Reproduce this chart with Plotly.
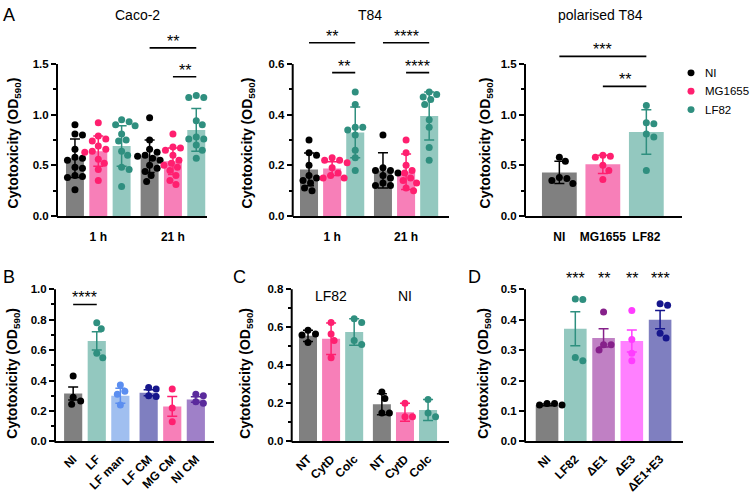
import plotly.graph_objects as go

W, H = 750, 494

# ---------------- colours ----------------
GRAY_BAR, BLACK = "#808080", "#000000"
PINK_BAR, PINK_DOT = "#f77fb8", "#ff1f6f"
TEAL_BAR, TEAL_DOT = "#93c8bf", "#2f8f7f"
BLUE_BAR, BLUE_DOT = "#a0bff0", "#5b8ef0"
SLATE_BAR, NAVY_DOT = "#7f7fc0", "#16168c"
LAV_BAR, PURP_DOT = "#9f80c8", "#5a2a9c"
ORCH_BAR, PLUM_DOT = "#c080c4", "#86208a"
MAG_BAR, MAG_DOT = "#ff80ff", "#ff3cff"

# ---------------- Panel A: Caco-2 ----------------
caco_groups = ["1 h", "21 h"]
caco_means = [0.57, 0.64, 0.69, 0.59, 0.54, 0.85]
caco_sd = [0.19, 0.15, 0.20, 0.16, 0.13, 0.21]
caco_ni_1h = [0.90, 0.81, 0.80, 0.66, 0.58, 0.57, 0.55, 0.48, 0.47, 0.40, 0.39, 0.38, 0.26]
caco_mg_1h = [0.92, 0.79, 0.76, 0.74, 0.69, 0.66, 0.64, 0.63, 0.56, 0.52, 0.46, 0.35]
caco_lf_1h = [0.95, 0.93, 0.90, 0.89, 0.81, 0.75, 0.74, 0.64, 0.60, 0.48, 0.46, 0.29]
caco_ni_21h = [0.97, 0.75, 0.66, 0.63, 0.60, 0.59, 0.57, 0.55, 0.50, 0.47, 0.44, 0.40, 0.34]
caco_mg_21h = [0.81, 0.68, 0.67, 0.65, 0.60, 0.55, 0.52, 0.50, 0.48, 0.45, 0.40, 0.35, 0.31]
caco_lf_21h = [1.19, 1.17, 1.17, 0.94, 0.90, 0.78, 0.76, 0.76, 0.73, 0.70, 0.65, 0.57]

# ---------------- Panel A: T84 ----------------
t84_groups = ["1 h", "21 h"]
t84_means = [0.184, 0.187, 0.33, 0.18, 0.175, 0.395]
t84_sd = [0.065, 0.027, 0.10, 0.07, 0.07, 0.095]
t84_ni_1h = [0.30, 0.25, 0.24, 0.20, 0.16, 0.15, 0.14, 0.13, 0.11, 0.10]
t84_mg_1h = [0.23, 0.22, 0.22, 0.21, 0.19, 0.17, 0.16, 0.15, 0.15]
t84_lf_1h = [0.49, 0.44, 0.35, 0.35, 0.34, 0.32, 0.26, 0.23, 0.18]
t84_ni_21h = [0.32, 0.19, 0.18, 0.18, 0.17, 0.16, 0.15, 0.13, 0.12, 0.12]
t84_mg_21h = [0.30, 0.25, 0.20, 0.18, 0.17, 0.15, 0.14, 0.13, 0.11, 0.10]
t84_lf_21h = [0.49, 0.48, 0.47, 0.46, 0.44, 0.38, 0.35, 0.27, 0.22]

# ---------------- Panel A: polarised T84 ----------------
pol_labels = ["NI", "MG1655", "LF82"]
pol_means = [0.43, 0.51, 0.83]
pol_sd = [0.11, 0.09, 0.22]
pol_ni = [0.58, 0.54, 0.38, 0.37, 0.35, 0.32]
pol_mg = [0.60, 0.59, 0.58, 0.50, 0.45, 0.36]
pol_lf = [1.09, 0.92, 0.91, 0.81, 0.78, 0.45]

# ---------------- Panel B ----------------
b_labels = ["NI", "LF", "LF man", "LF CM", "MG CM", "NI CM"]
b_means = [0.315, 0.66, 0.30, 0.32, 0.23, 0.275]
b_sem = [0.043, 0.06, 0.05, 0.02, 0.065, 0.018]
b_ni = [0.43, 0.29, 0.265, 0.245]
b_lf = [0.78, 0.74, 0.58, 0.55]
b_lfman = [0.37, 0.33, 0.31, 0.24]
b_lfcm = [0.355, 0.345, 0.30, 0.295]
b_mgcm = [0.345, 0.22, 0.13]
b_nicm = [0.31, 0.30, 0.26, 0.25]

# ---------------- Panel C ----------------
c_labels = ["NT", "CytD", "Colc", "NT", "CytD", "Colc"]
c_groups = ["LF82", "NI"]
c_means = [0.555, 0.54, 0.575, 0.195, 0.153, 0.165]
c_err = [0.03, 0.083, 0.07, 0.055, 0.047, 0.055]
c_nt_lf = [0.585, 0.565, 0.56, 0.52]
c_cytd_lf = [0.625, 0.565, 0.53, 0.44]
c_colc_lf = [0.645, 0.625, 0.53, 0.51]
c_nt_ni = [0.26, 0.225, 0.15, 0.15]
c_cytd_ni = [0.20, 0.13, 0.13]
c_colc_ni = [0.22, 0.15, 0.13]

# ---------------- Panel D ----------------
d_labels = ["NI", "LF82", "ΔE1", "ΔE3", "ΔE1+E3"]
d_means = [0.12, 0.37, 0.34, 0.33, 0.40]
d_sem = [0.003, 0.056, 0.03, 0.036, 0.03]
d_stars = ["", "***", "**", "**", "***"]
d_ni = [0.12, 0.125, 0.12, 0.125]
d_lf = [0.466, 0.468, 0.276, 0.265]
d_e1 = [0.425, 0.318, 0.318, 0.30]
d_e3 = [0.43, 0.335, 0.29, 0.265]
d_e13 = [0.447, 0.452, 0.355, 0.34]

FONT = "Liberation Sans, Arial, sans-serif"
fig = go.Figure()
shapes, annotations, layout_axes = [], [], {}


def swarm(vals, ppx, ppy, d=7.2, step=1.5):
    placed, offs = [], [0.0] * len(vals)
    order = sorted(range(len(vals)), key=lambda i: -vals[i])
    cands = [0.0]
    for k in range(1, 30):
        cands += [k * step, -k * step]
    for i in order:
        yv = vals[i] * ppy
        for c in cands:
            if all((c - px) ** 2 + (yv - py) ** 2 >= d * d for px, py in placed):
                break
        placed.append((c, yv))
        offs[i] = c / ppx
    return offs


def panel(idx, px0, px1, py0, pytop, topval, ext, xrange, major, minor,
          bars, tickpos, ticktext, tickangle=0, tickfs=12, fmt=".1f"):
    """bars: list of (xpos, mean, err, points, bar colour, dot colour, width)"""
    xa = "x" if idx == 1 else f"x{idx}"
    ya = "y" if idx == 1 else f"y{idx}"
    ytop_ext = py0 - (py0 - pytop) * ext / topval
    xdom = [px0 / W, px1 / W]
    ydom = [1 - py0 / H, 1 - ytop_ext / H]
    ppx = (px1 - px0) / (xrange[1] - xrange[0])
    ppy = (py0 - pytop) / topval
    kx = "xaxis" if idx == 1 else f"xaxis{idx}"
    ky = "yaxis" if idx == 1 else f"yaxis{idx}"
    layout_axes[kx] = dict(
        domain=xdom, range=xrange, anchor=ya, showgrid=False, zeroline=False,
        showline=True, linewidth=2, linecolor="black", ticks="",
        tickvals=tickpos, ticktext=ticktext, tickangle=tickangle,
        ticklabelstandoff=4 if tickangle else 9,
        tickfont=dict(family=FONT, size=tickfs, color="black", weight="bold"),
        fixedrange=True)
    layout_axes[ky] = dict(
        domain=ydom, range=[0, ext], anchor=xa, showgrid=False, zeroline=False,
        showline=False, ticks="outside", ticklen=5, tickwidth=1.6,
        tickcolor="black", tickvals=major, tickformat=fmt,
        tickfont=dict(family=FONT, size=11.5, color="black", weight="bold"),
        minor=dict(tickvals=minor, ticks="outside", ticklen=3, tickwidth=1.6,
                   tickcolor="black", showgrid=False),
        fixedrange=True)
    # y axis line only up to the top tick
    shapes.append(dict(type="line", xref="paper", yref="paper",
                       x0=px0 / W, x1=px0 / W, y0=1 - py0 / H - 1 / H,
                       y1=1 - pytop / H, line=dict(color="black", width=2)))
    for (xp, m, e, pts, bc, dc, w) in bars:
        fig.add_trace(go.Bar(
            x=[xp], y=[m], width=w, xaxis=xa, yaxis=ya,
            marker=dict(color=bc, line=dict(width=0)),
            error_y=dict(type="data", array=[e], color=dc, thickness=1.5, width=5),
            showlegend=False, hoverinfo="skip"))
    for (xp, m, e, pts, bc, dc, w) in bars:
        offs = swarm(pts, ppx, ppy)
        fig.add_trace(go.Scatter(
            x=[xp + o for o in offs], y=pts, mode="markers", xaxis=xa, yaxis=ya,
            marker=dict(size=7, color=dc, line=dict(width=0)),
            cliponaxis=False, showlegend=False, hoverinfo="skip"))
    return xa, ya


def sig(xa, ya, x0, x1, y, text, fs=16):
    shapes.append(dict(type="line", xref=xa, yref=ya, x0=x0, x1=x1, y0=y, y1=y,
                       line=dict(color="black", width=1.6)))
    annotations.append(dict(xref=xa, yref=ya, x=(x0 + x1) / 2, y=y, text=text,
                            showarrow=False, xanchor="center", yanchor="bottom", yshift=-4,
                            font=dict(family=FONT, size=fs, color="black")))


def paper_text(txt, px, py, size, bold=False, angle=0, xanchor="center"):
    f = dict(family=FONT, size=size, color="black")
    if bold:
        f["weight"] = "bold"
    annotations.append(dict(xref="paper", yref="paper", x=px / W, y=1 - py / H, text=txt,
                            textangle=angle, showarrow=False, xanchor=xanchor,
                            yanchor="middle", font=f))


pos6 = [0, 1, 2, 3.2, 4.2, 5.2]
grp_pos = [1, 4.2]
A_cols = [(GRAY_BAR, BLACK), (PINK_BAR, PINK_DOT), (TEAL_BAR, TEAL_DOT)] * 2

# ---- A: Caco-2 ----
caco_pts = [caco_ni_1h, caco_mg_1h, caco_lf_1h, caco_ni_21h, caco_mg_21h, caco_lf_21h]
bars = [(pos6[i], caco_means[i], caco_sd[i], caco_pts[i], A_cols[i][0], A_cols[i][1], 0.77)
        for i in range(6)]
xa, ya = panel(1, 57, 207, 217, 60, 1.5, 1.8, [-0.77, 5.66], [0, 0.5, 1.0, 1.5],
               [0.25, 0.75, 1.25], bars, grp_pos, caco_groups)
sig(xa, ya, pos6[3], pos6[5], 1.66, "**")
sig(xa, ya, pos6[4], pos6[5], 1.375, "**")

# ---- A: T84 ----
t84_pts = [t84_ni_1h, t84_mg_1h, t84_lf_1h, t84_ni_21h, t84_mg_21h, t84_lf_21h]
bars = [(pos6[i], t84_means[i], t84_sd[i], t84_pts[i], A_cols[i][0], A_cols[i][1], 0.78)
        for i in range(6)]
xa, ya = panel(2, 292.7, 449.3, 217, 60, 0.6, 0.72, [-0.706, 6.07], [0, 0.2, 0.4, 0.6],
               [0.1, 0.3, 0.5], bars, grp_pos, t84_groups)
sig(xa, ya, pos6[0], pos6[2], 0.684, "**")
sig(xa, ya, pos6[1], pos6[2], 0.566, "**")
sig(xa, ya, pos6[3], pos6[5], 0.684, "****")
sig(xa, ya, pos6[4], pos6[5], 0.566, "****")

# ---- A: polarised T84 ----
pos3 = [0, 1, 2]
pol_pts = [pol_ni, pol_mg, pol_lf]
bars = [(pos3[i], pol_means[i], pol_sd[i], pol_pts[i], A_cols[i][0], A_cols[i][1], 0.8)
        for i in range(3)]
xa, ya = panel(3, 525, 682, 217, 60, 1.5, 1.7, [-0.79, 2.82], [0, 0.5, 1.0, 1.5],
               [0.25, 0.75, 1.25], bars, pos3, pol_labels)
sig(xa, ya, pos3[0], pos3[2], 1.576, "***")
sig(xa, ya, pos3[1], pos3[2], 1.28, "**")

# ---- B ----
b_pts = [b_ni, b_lf, b_lfman, b_lfcm, b_mgcm, b_nicm]
B_cols = [(GRAY_BAR, BLACK), (TEAL_BAR, TEAL_DOT), (BLUE_BAR, BLUE_DOT),
          (SLATE_BAR, NAVY_DOT), (PINK_BAR, PINK_DOT), (LAV_BAR, PURP_DOT)]
bars = [(pos6[i], b_means[i], b_sem[i], b_pts[i], B_cols[i][0], B_cols[i][1], 0.77)
        for i in range(6)]
xa, ya = panel(4, 55, 214, 450, 292.7, 1.0, 1.0, [-0.77, 5.97],
               [0, 0.2, 0.4, 0.6, 0.8, 1.0], [0.1, 0.3, 0.5, 0.7, 0.9], bars,
               pos6, b_labels, tickangle=-45, tickfs=12)
sig(xa, ya, pos6[0], pos6[1], 0.90, "****")

# ---- C ----
c_pts = [c_nt_lf, c_cytd_lf, c_colc_lf, c_nt_ni, c_cytd_ni, c_colc_ni]
bars = [(pos6[i], c_means[i], c_err[i], c_pts[i], A_cols[i][0], A_cols[i][1], 0.78)
        for i in range(6)]
xa, ya = panel(5, 291.7, 449.3, 450, 292.7, 0.8, 0.8, [-0.706, 6.12],
               [0, 0.2, 0.4, 0.6, 0.8], [0.1, 0.3, 0.5, 0.7], bars,
               pos6, c_labels, tickangle=-45, tickfs=12)
for g, gx in zip(c_groups, grp_pos):
    annotations.append(dict(xref=xa, yref=ya, x=gx, y=0.765, text=g, showarrow=False,
                            xanchor="center", yanchor="middle",
                            font=dict(family=FONT, size=14, color="black")))

# ---- D ----
pos5 = [0, 1, 2, 3, 4]
d_pts = [d_ni, d_lf, d_e1, d_e3, d_e13]
D_cols = [(GRAY_BAR, BLACK), (TEAL_BAR, TEAL_DOT), (ORCH_BAR, PLUM_DOT),
          (MAG_BAR, MAG_DOT), (SLATE_BAR, NAVY_DOT)]
bars = [(pos5[i], d_means[i], d_sem[i], d_pts[i], D_cols[i][0], D_cols[i][1], 0.8)
        for i in range(5)]
xa, ya = panel(6, 525, 682.7, 450, 292.7, 0.5, 0.58, [-0.78, 4.80],
               [0, 0.1, 0.2, 0.3, 0.4, 0.5], [], bars, pos5, d_labels,
               tickangle=-45, tickfs=12)
for xp, s in zip(pos5, d_stars):
    if s:
        annotations.append(dict(xref=xa, yref=ya, x=xp, y=0.535, text=s, showarrow=False,
                                xanchor="center", yanchor="middle",
                                font=dict(family=FONT, size=16, color="black")))

# ---- titles, y-axis titles, panel letters ----
for txt, px, py in [("Caco-2", 137, 9), ("T84", 370, 9), ("polarised T84", 600, 9)]:
    paper_text(txt, px, py, 14)
for txt, px, py in [("A", 9, 9), ("B", 9, 280), ("C", 239, 280), ("D", 474, 280)]:
    paper_text(txt, px, py, 18)
for px, py in [(14, 142), (248, 142), (486, 142), (13, 380), (246, 380), (484, 380)]:
    paper_text("Cytotoxicity (OD<sub>590</sub>)", px, py, 14, bold=True, angle=-90)

# ---- legend (manual) ----
leg_names = ["NI", "MG1655", "LF82"]
leg_cols = [BLACK, PINK_DOT, TEAL_DOT]
for i, (n, c) in enumerate(zip(leg_names, leg_cols)):
    cy = 69 + i * 19
    shapes.append(dict(type="circle", xref="paper", yref="paper",
                       x0=(691 - 3.5) / W, x1=(691 + 3.5) / W,
                       y0=1 - (cy + 3.5) / H, y1=1 - (cy - 3.5) / H,
                       fillcolor=c, line=dict(width=0)))
    paper_text(n, 703, cy, 11.5, xanchor="left")

fig.update_layout(
    width=W, height=H, margin=dict(l=0, r=0, t=0, b=0),
    paper_bgcolor="white", plot_bgcolor="white", barmode="overlay",
    showlegend=False, shapes=shapes, annotations=annotations,
    font=dict(family=FONT, color="black"), **layout_axes)

fig.write_html("out.html")
